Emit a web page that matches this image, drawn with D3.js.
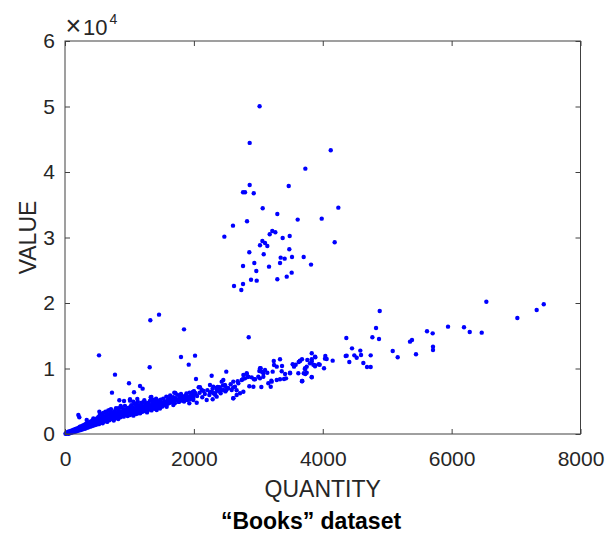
<!DOCTYPE html>
<html>
<head>
<meta charset="utf-8">
<script src="https://cdn.jsdelivr.net/npm/d3@7/dist/d3.min.js"></script>
<style>
  html, body { margin: 0; padding: 0; background: #fff; }
  svg { display: block; }
  .tick text { font-family: "Liberation Sans", Arial, sans-serif; font-size: 21px; fill: #262626; }
  .tick line { stroke: #404040; stroke-width: 1; }
</style>
</head>
<body>
<svg id="chart" width="606" height="535"></svg>
<script>
// Axis ticks
const xTicks = [0, 2000, 4000, 6000, 8000];
const yTicks = [0, 10000, 20000, 30000, 40000, 50000, 60000];

// Upper group of books: high value at mid quantity
const upperQuantity = [3020,2866,4124,3730,2866,2763,2794,2929,3472,4242,3068,3295,3984,3611,2825,3217,3264,3177,3487,3378,3063,3104,3026,3140,4185,3481,2860,3084,3347,3409,3704,3523,3337,2938,2763,3166,3818,2969,3518,3441,2887,2975,3295,2763,2736,2607,2473,2623];
const upperValue    = [50040,44440,43320,40510,38020,36910,36910,36750,37870,34560,34460,33590,32880,32730,32470,31000,30800,30490,30230,29930,29470,29170,28810,28710,29270,28200,27740,27440,26920,26770,27030,27030,26110,26110,25650,25550,25860,24890,24630,24020,23560,23410,23620,22900,21990,31810,30130,22600];

// Scattered points above the main band
const outlierQuantity = [1459,1324,1847,2851,528,1800,2018,1920,1314,776,2276,2503,2033,993,1164,1205,729,1071,207,222];
const outlierValue    = [18220,17360,15980,14760,12010,11760,11960,10590,10180,9060,8900,9520,8400,7740,7330,6920,6310,6370,2900,2550];

// Main band, low quantities
const bandQuantity = [
  8,15,22,30,36,44,50,57,63,70,76,84,90,97,104,110,117,125,131,138,146,152,159,166,173,180,188,195,200,
  210,216,224,231,238,246,255,262,270,278,286,294,302,310,318,326,334,342,350,358,366,375,383,391,400,408,416,425,433,441,450,458,466,475,483,491,500,
  337,440,533,570,647,698,776,828,905,957,1035,1112,1122,
  510,518,527,535,544,552,560,568,577,585,594,602,611,620,628,636,645,654,662,671,680,688,697,705,714,722,731,740,748,757,765,774,782,791,800,808,817,826,834,843,852,860,869,878,886,895,904,912,921,930,938,947,956,964,973,982,990,1000,
  1010,1018,1027,1035,1044,1053,1062,1070,1079,1088,1097,1105,1114,1123,1132,1140,1149,1158,1167,1176,1185,1193,1202,1211,1220,1229,1238,1246,1255,1264,1273,1282,1290,1299,1308,1317,1326,1334,1343,1352,1361,1370,1378,1387,1396,1405,1414,1422,1431,1440,1449,1458,1466,1475,1484,1493,1500,
  843,916,1009,864,1330,1402,1630,1712,1800,
  1340,1355,1381,1231,1190,1242,1599,1640,1676,1009,1060,1102,1501,1526,1769,1836,1878,1929,1991,2044,2199,2292,2354,1319,1268,1164,1423,1474,1578,1681,1035,1086,1138,
  1512,1524,1536,1548,1560,1572,1584,1596,1608,1620,1632,1644,1656,1668,1680,1692,1704,1716,1728,1740,1752,1764,1776,1788,1800,1812,1824,1836,1848,1860,1872,1884,1896,1908,1920,1932,1944,1956,1968,1980,1992,
  2075,2122,2002,2023,1991,1696,1800,2240,2276,2302,2364,2416,
  2050,2090,2130,2170,2210,2250,2290,2330,2370,2410,2450,2490,2530,2570,2610
];
const bandValue = [
  30,120,60,210,90,300,160,40,380,240,130,450,310,190,520,380,260,610,450,300,700,520,380,780,600,430,860,650,500,
  980,720,560,1100,830,620,1180,900,700,1300,1000,780,1420,1100,850,1560,1200,950,1650,1300,1020,1800,1420,1120,1900,1500,1200,2050,1620,1300,2150,1720,1380,2250,1850,1450,2400,
  2140,2390,3400,3010,3150,3660,3400,3920,3310,3660,4170,4430,5350,
  1900,2600,1500,2250,3000,1750,2400,2050,2800,1650,3200,2300,1950,2700,3400,2150,2500,1850,2950,3600,2400,2100,3100,2650,3800,2300,2850,3300,2550,2050,3500,2900,2400,3950,3100,2650,3350,2300,3700,2900,3200,2550,4100,3450,2800,3000,3800,2650,3300,4300,3550,2900,3100,3900,2750,3450,4000,3200,
  2900,3800,4400,3100,3500,4100,2800,3650,4700,3350,3900,3050,4250,3600,4900,3300,3850,4400,3150,4050,3600,4600,3400,4150,3750,4950,3500,4300,3900,4500,3300,4100,4750,3700,4400,5050,3900,4250,3600,4600,4050,5200,4400,3850,4800,4200,5400,4500,3950,4900,4300,5100,4600,3900,5250,4500,4800,
  5150,5040,5090,4280,5600,5190,5600,6260,5850,
  5650,5190,4780,5150,4780,4780,5300,5500,5090,5300,4930,4430,4780,4430,4930,5090,5450,4690,5190,4780,5190,5300,5700,3920,3660,3770,3660,4170,4170,4430,3660,3250,3150,
  4200,5400,4700,5000,4400,5700,4900,4600,5200,4750,5900,4850,5300,4950,5600,5050,4700,5450,5150,6000,5250,4900,5550,5300,6100,5100,5650,5400,4950,5800,5500,6200,5200,5700,5450,6300,5350,5900,5600,6400,5500,
  7130,6720,6520,6210,5960,6310,5960,5960,6460,6210,6610,6210,
  5800,6300,5600,6100,6700,6400,6900,6000,7200,6800,7400,6500,7000,7600,7100
];

// Main band, mid quantities
const midQuantity = [
  2095,1991,2018,2152,2354,2400,2488,2503,2612,2664,2758,2820,2835,2680,2860,2933,3037,3016,3078,3140,3047,3193,3240,3337,3244,3223,3363,3286,3368,3202,3399,3415,3492,3533,3554,3580,3627,3647,3683,3725,3751,3761,3829,3885,3854,3829,3937,
  2250,2302,2354,2406,2328,2457,2483,2432,2457,2535,2587,2638,2612,2690,2742,2794,2768,2820,2846,2897,2949,2923,2768,2716,2664,2612,3026,3052,3026,3078,3104,3000,3155,3208,3286,3337,3430,3492,3678,3621,3730,3751
];
const midValue = [
  7130,6460,6210,6570,7070,7130,7330,6720,5450,6670,8350,9160,8700,8050,7280,8350,10030,9620,8750,9360,7180,7220,11150,11410,10540,9520,9570,10280,10380,8140,8400,9160,9360,10640,10280,10580,10990,11190,8090,9880,9360,11300,12320,11710,10580,8650,10640,
  7480,7220,6820,6460,6210,6720,7480,7990,8250,6980,6720,7220,7990,7740,8250,8500,9010,9270,8750,8650,8350,7220,6460,6210,5960,5450,8500,9520,10030,9270,9770,8750,7740,7990,8250,8350,8500,9270,8040,9270,9160,10280
];

// Main band, high quantities
const highQuantity = [6539,7430,7320,4884,7020,4827,5944,6192,6281,6467,5618,5706,4770,4873,4366,5354,5385,5711,5711,4454,5086,4583,5447,5163,4371,4356,4490,4527,4594,4744,4412,4630,4687,4744,4154,4040,4035,4061,4020,3953,3880,3880,3880,3829,3829,3802,3829,3678,3725,3705,3678,3647];
const highValue    = [20200,19800,18930,18780,17710,16190,16390,16290,15580,15470,15680,15370,14760,14510,14660,14100,14350,13330,12830,13080,12670,12730,12170,11710,11960,11910,12010,11650,12060,12010,10990,10840,10230,10230,11200,11910,11500,11450,10030,10580,11810,10490,10340,11410,11100,10790,8700,11410,10030,9270,8090,11150];

const groups = [
  [bandQuantity, bandValue],
  [midQuantity, midValue],
  [highQuantity, highValue],
  [outlierQuantity, outlierValue],
  [upperQuantity, upperValue]
];
const points = groups.flatMap(([q, v]) => q.map((d, i) => ({ q: d, v: v[i] })));

const svg = d3.select("#chart");
const plotLeft = 65, plotRight = 580.5, plotTop = 41, plotBottom = 434;

const x = d3.scaleLinear().domain([0, 8000]).range([plotLeft, plotRight]);
const y = d3.scaleLinear().domain([0, 60000]).range([plotBottom, plotTop]);

// Data points
svg.append("g")
  .selectAll("circle")
  .data(points)
  .join("circle")
  .attr("cx", d => x(d.q))
  .attr("cy", d => y(d.v))
  .attr("r", 2.2)
  .attr("fill", "#0000ff");

// Axes with inward ticks on all four sides
svg.append("g").attr("transform", `translate(0,${plotBottom})`)
  .call(d3.axisBottom(x).tickValues(xTicks).tickFormat(d3.format("d")).tickSize(-5).tickPadding(17));
svg.append("g").attr("transform", `translate(${plotLeft},0)`)
  .call(d3.axisLeft(y).tickValues(yTicks).tickFormat(d => d / 10000).tickSize(-5).tickPadding(10));
svg.append("g").attr("transform", `translate(0,${plotTop})`)
  .call(d3.axisTop(x).tickValues(xTicks).tickFormat("").tickSize(-5));
svg.append("g").attr("transform", `translate(${plotRight},0)`)
  .call(d3.axisRight(y).tickValues(yTicks).tickFormat("").tickSize(-5));
svg.selectAll(".domain").remove();

// Box
svg.append("rect")
  .attr("x", plotLeft).attr("y", plotTop)
  .attr("width", plotRight - plotLeft).attr("height", plotBottom - plotTop)
  .attr("fill", "none").attr("stroke", "#404040").attr("stroke-width", 1);

// Exponent label (×10⁴) above the value axis
const labelFont = "Liberation Sans, Arial, sans-serif";
svg.append("text")
  .attr("x", 65.5).attr("y", 35)
  .attr("font-family", labelFont).attr("font-size", 27).attr("fill", "#262626")
  .text("\u00d7");
svg.append("text")
  .attr("x", 83).attr("y", 35)
  .attr("font-family", labelFont).attr("font-size", 22).attr("fill", "#262626")
  .text("10");
svg.append("text")
  .attr("x", 109.5).attr("y", 23.5)
  .attr("font-family", labelFont).attr("font-size", 14).attr("fill", "#262626")
  .text("4");

// Axis titles
svg.append("text")
  .attr("x", (plotLeft + plotRight) / 2).attr("y", 497)
  .attr("text-anchor", "middle")
  .attr("font-family", labelFont)
  .attr("font-size", 23).attr("fill", "#262626")
  .text("QUANTITY");

svg.append("text")
  .attr("transform", `translate(36,${(plotTop + plotBottom) / 2}) rotate(-90)`)
  .attr("text-anchor", "middle")
  .attr("font-family", labelFont)
  .attr("font-size", 23).attr("fill", "#262626")
  .text("VALUE");

svg.append("text")
  .attr("x", 311).attr("y", 529)
  .attr("text-anchor", "middle")
  .attr("font-family", labelFont)
  .attr("font-weight", "bold")
  .attr("font-size", 23).attr("fill", "#000")
  .text("\u201cBooks\u201d dataset");
</script>
</body>
</html>
